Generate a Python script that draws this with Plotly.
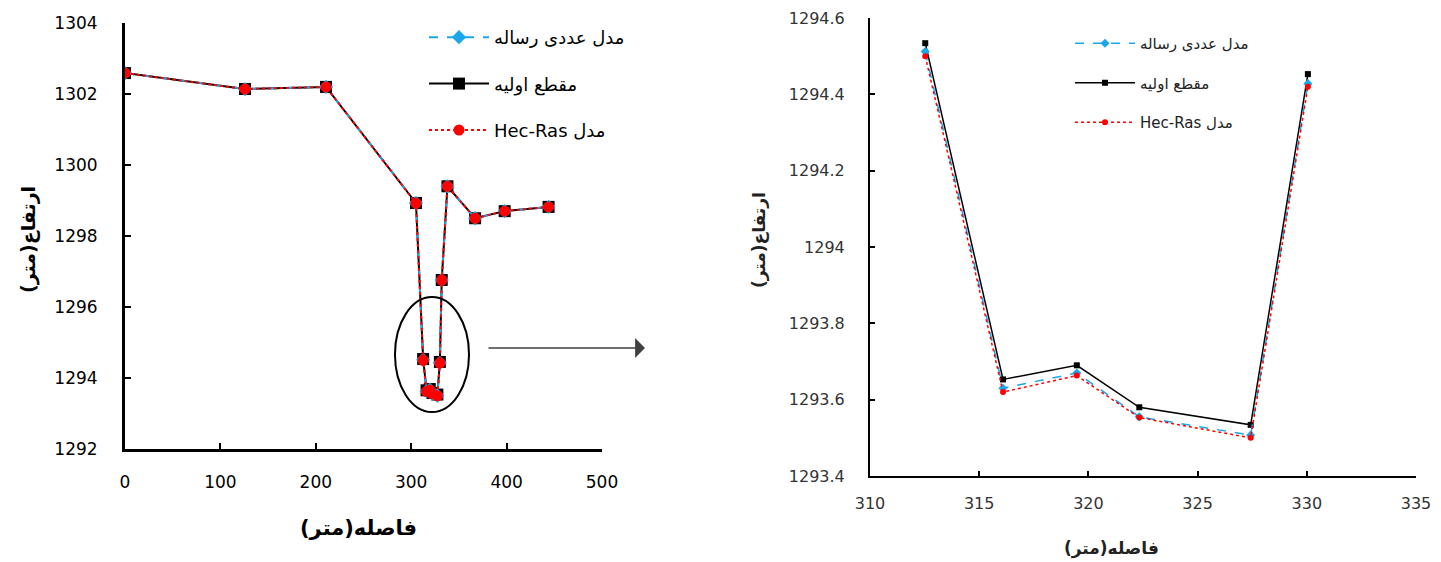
import plotly.graph_objects as go

# ---------------- data ----------------
distance = [0, 125.8, 210.7, 305, 312.53, 316.09, 319.47, 322.33, 327.43, 330.05, 332, 338, 367, 398, 444]
elev_initial = [1302.59, 1302.14, 1302.2, 1298.93, 1294.534, 1293.653, 1293.69, 1293.58, 1293.534, 1294.453,
                1296.76, 1299.4, 1298.5, 1298.7, 1298.82]
elev_thesis = [1302.59, 1302.14, 1302.2, 1298.93, 1294.512, 1293.63, 1293.67, 1293.555, 1293.507, 1294.428,
               1296.76, 1299.4, 1298.5, 1298.7, 1298.82]
elev_hecras = [1302.59, 1302.14, 1302.2, 1298.93, 1294.50, 1293.62, 1293.663, 1293.553, 1293.50, 1294.42,
               1296.76, 1299.4, 1298.5, 1298.7, 1298.82]
zoom_start, zoom_end = 4, 10  # indices of the zoomed-in reach

name_thesis = "مدل عددی رساله"
name_initial = "مقطع اولیه"
name_hecras = "Hec-Ras مدل"

left_xticks = [0, 100, 200, 300, 400, 500]
left_yticks = [1292, 1294, 1296, 1298, 1300, 1302, 1304]
right_xticks = [310, 315, 320, 325, 330, 335]
right_yticks = [1293.4, 1293.6, 1293.8, 1294.0, 1294.2, 1294.4, 1294.6]
right_yticktext = ["1293.4", "1293.6", "1293.8", "1294", "1294.2", "1294.4", "1294.6"]

title_x = "\u200fفاصله(متر)\u200f"
title_y = "\u200fارتفاع(متر)\u200f"

OFF = 8  # page body margin
W, H = 1441 - OFF, 562 - OFF
FONT = "DejaVu Sans"
BLUE = "#1AA7EC"

fig = go.Figure()

# ---------------- left panel ----------------
fig.add_trace(go.Scatter(x=distance, y=elev_initial, name=name_initial, mode="lines+markers",
                         line=dict(color="black", width=2), marker=dict(symbol="square", size=12, color="black"),
                         xaxis="x", yaxis="y", legend="legend", legendgroup="a", legendrank=2))
fig.add_trace(go.Scatter(x=distance, y=elev_thesis, name=name_thesis, mode="lines+markers",
                         line=dict(color=BLUE, width=2, dash="dash"), marker=dict(symbol="diamond", size=11, color=BLUE),
                         xaxis="x", yaxis="y", legend="legend", legendgroup="b", legendrank=1))
fig.add_trace(go.Scatter(x=distance, y=elev_hecras, name=name_hecras, mode="lines+markers",
                         line=dict(color="#FF0000", width=2, dash="dot"), marker=dict(symbol="circle", size=11, color="#FF0000"),
                         xaxis="x", yaxis="y", legend="legend", legendgroup="c", legendrank=3))

# ---------------- right panel ----------------
xs = distance[zoom_start:zoom_end]
fig.add_trace(go.Scatter(x=xs, y=elev_initial[zoom_start:zoom_end], name=name_initial, mode="lines+markers",
                         line=dict(color="black", width=1.5), marker=dict(symbol="square", size=6, color="black"),
                         xaxis="x2", yaxis="y2", legend="legend2", legendgroup="d", legendrank=2))
fig.add_trace(go.Scatter(x=xs, y=elev_thesis[zoom_start:zoom_end], name=name_thesis, mode="lines+markers",
                         line=dict(color=BLUE, width=1.5, dash="dash"), marker=dict(symbol="diamond", size=7, color=BLUE),
                         xaxis="x2", yaxis="y2", legend="legend2", legendgroup="e", legendrank=1))
fig.add_trace(go.Scatter(x=xs, y=elev_hecras[zoom_start:zoom_end], name=name_hecras, mode="lines+markers",
                         line=dict(color="#FF0000", width=1.5, dash="dot"), marker=dict(symbol="circle", size=6, color="#FF0000"),
                         xaxis="x2", yaxis="y2", legend="legend2", legendgroup="f", legendrank=3))

def px_x(p):
    return (p - OFF) / W

def px_y(p):
    return (H - (p - OFF)) / H

axis_common = dict(showgrid=False, zeroline=False, showline=True, linecolor="black",
                   ticks="inside", tickcolor="black", mirror=False, automargin=False)

fig.update_layout(
    width=W, height=H,
    margin=dict(l=0, r=0, t=0, b=0),
    paper_bgcolor="white", plot_bgcolor="white",
    font=dict(family=FONT, color="black"),
    xaxis=dict(domain=[px_x(125), px_x(602)], range=[0, 500], tickvals=left_xticks,
               linewidth=3, ticklen=6, tickwidth=2, tickfont=dict(size=17), ticklabelstandoff=16,
               anchor="y", **axis_common),
    yaxis=dict(domain=[px_y(449), px_y(23)], range=[1292, 1304], tickvals=left_yticks,
               linewidth=3, ticklen=6, tickwidth=2, tickfont=dict(size=17), ticklabelstandoff=21,
               anchor="x", **axis_common),
    xaxis2=dict(domain=[px_x(870), px_x(1416)], range=[310, 335], tickvals=right_xticks,
                linewidth=2, ticklen=5, tickwidth=1.5, tickfont=dict(size=16, color="#333333"),
                ticklabelstandoff=12, anchor="y2", **axis_common),
    yaxis2=dict(domain=[px_y(476), px_y(18)], range=[1293.4, 1294.6], tickvals=right_yticks,
                ticktext=right_yticktext, linewidth=2, ticklen=5, tickwidth=1.5,
                tickfont=dict(size=16, color="#333333"), ticklabelstandoff=20, anchor="x2", **axis_common),
    legend=dict(x=px_x(424), y=px_y(19), xanchor="left", yanchor="top", bgcolor="rgba(0,0,0,0)",
                font=dict(size=18, color="black"), tracegroupgap=20, itemwidth=60),
    legend2=dict(x=px_x(1070), y=px_y(27), xanchor="left", yanchor="top", bgcolor="rgba(0,0,0,0)",
                 font=dict(size=15, color="#222222"), tracegroupgap=17, itemwidth=60),
    showlegend=True,
)

# ellipse around the zoomed reach
fig.add_shape(type="circle", xref="x", yref="y", x0=283, x1=360.6, y0=1293.04, y1=1296.28,
              line=dict(color="black", width=2))

# arrow pointing to the zoomed chart
fig.add_annotation(xref="paper", yref="paper", x=px_x(645), y=px_y(348), ax=-158, ay=0,
                   text="", showarrow=True, arrowhead=1, arrowsize=2.2, arrowwidth=1.5, arrowcolor="#404040")

# axis titles
fig.add_annotation(xref="paper", yref="paper", x=px_x(358), y=px_y(528), text=title_x, showarrow=False,
                   font=dict(size=21, family="DejaVu Sans", weight="bold"), xanchor="center", yanchor="middle")
fig.add_annotation(xref="paper", yref="paper", x=px_x(29), y=px_y(240), text=title_y, showarrow=False,
                   textangle=-90, font=dict(size=19, family="DejaVu Sans", weight="bold"),
                   xanchor="center", yanchor="middle")
fig.add_annotation(xref="paper", yref="paper", x=px_x(1111), y=px_y(548), text=title_x, showarrow=False,
                   font=dict(size=17, family="DejaVu Sans", weight="bold", color="#222222"),
                   xanchor="center", yanchor="middle")
fig.add_annotation(xref="paper", yref="paper", x=px_x(760), y=px_y(240), text=title_y, showarrow=False,
                   textangle=-90, font=dict(size=17, family="DejaVu Sans", weight="bold", color="#222222"),
                   xanchor="center", yanchor="middle")

fig.write_html("out.html")
